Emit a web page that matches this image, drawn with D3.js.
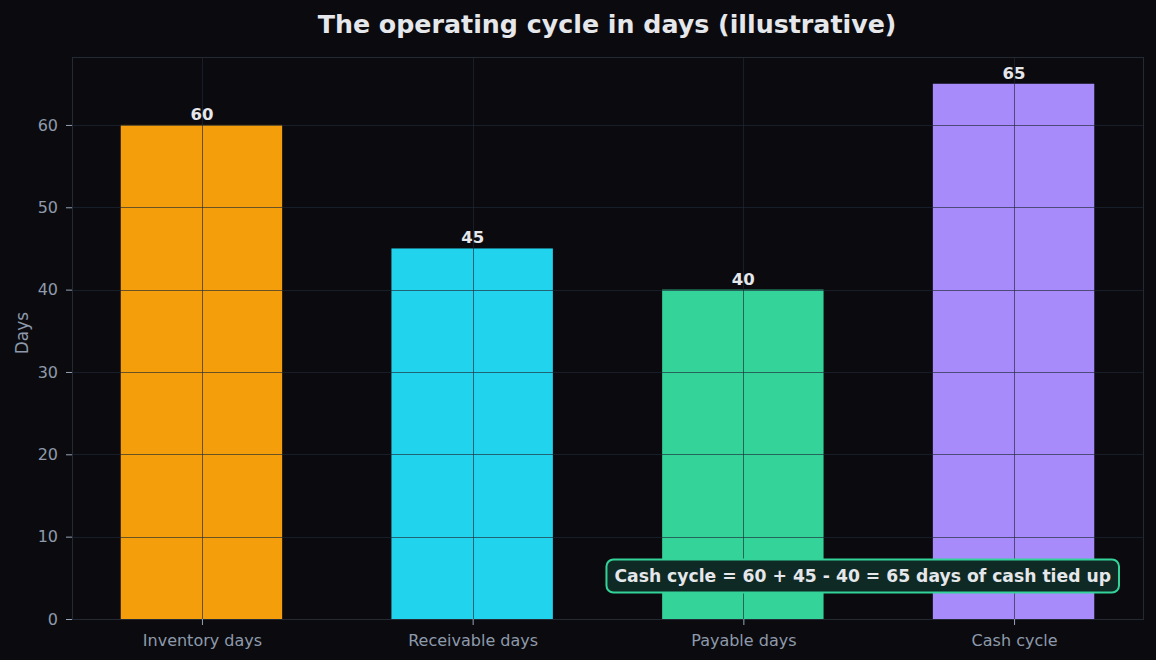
<!DOCTYPE html>
<html>
<head>
<meta charset="utf-8">
<script src="https://cdn.jsdelivr.net/npm/d3@7"></script>
<style>
  html, body { margin: 0; padding: 0; background: #0b0b0f; }
  svg { display: block; font-family: "DejaVu Sans", sans-serif; }
</style>
</head>
<body>
<svg id="chart"></svg>
<script>
// Data
const categories = ["Inventory days", "Receivable days", "Payable days", "Cash cycle"];
const days = [60, 45, 40, 65];
const barColors = ["#f59e0b", "#22d3ee", "#34d399", "#a78bfa"];
const yTicks = [0, 10, 20, 30, 40, 50, 60];
const note = "Cash cycle = 60 + 45 - 40 = 65 days of cash tied up";

const W = 1156, H = 660;
const margin = { top: 57, right: 12, bottom: 41, left: 72 };
const width = W - margin.left - margin.right;
const height = H - margin.top - margin.bottom;

const svg = d3.select("#chart").attr("width", W).attr("height", H);
svg.append("rect").attr("width", W).attr("height", H).attr("fill", "#0b0b0f");

svg.append("text")
    .attr("x", 607)
    .attr("y", 33)
    .attr("text-anchor", "middle")
    .style("font-size", "25.3px")
    .style("font-weight", "bold")
    .attr("fill", "#e5e7eb")
    .text("The operating cycle in days (illustrative)");

const g = svg.append("g").attr("transform", `translate(${margin.left},${margin.top})`);

// bars span -0.3..3.3 in category units, plus 5% margins like matplotlib
const xLin = d3.scaleLinear().domain([-0.48, 3.48]).range([0, width]);
const x = i => xLin(i);
const y = d3.scaleLinear().domain([0, 68.25]).range([height, 0]);

// bars
g.selectAll(".bar")
    .data(days)
    .enter()
    .append("rect")
    .attr("class", "bar")
    .attr("x", (d, i) => xLin(i - 0.3))
    .attr("y", d => y(d))
    .attr("width", xLin(0.3) - xLin(-0.3) - 1)
    .attr("height", d => height - y(d))
    .attr("fill", (d, i) => barColors[i]);

// grid drawn over bars
const gridColor = "#1f2937";
g.selectAll(".hgrid")
    .data(yTicks)
    .enter()
    .append("line")
    .attr("x1", 0).attr("x2", width)
    .attr("y1", d => Math.round(y(d)) + 0.5).attr("y2", d => Math.round(y(d)) + 0.5)
    .attr("stroke", gridColor).attr("stroke-opacity", 0.65);
g.selectAll(".vgrid")
    .data(categories)
    .enter()
    .append("line")
    .attr("y1", 0).attr("y2", height)
    .attr("x1", (d, i) => Math.round(x(i)) + 0.5).attr("x2", (d, i) => Math.round(x(i)) + 0.5)
    .attr("stroke", gridColor).attr("stroke-opacity", 0.65);

// value labels
g.selectAll(".val")
    .data(days)
    .enter()
    .append("text")
    .attr("x", (d, i) => x(i))
    .attr("y", d => y(d) - 5)
    .attr("text-anchor", "middle")
    .style("font-size", "16.5px")
    .style("font-weight", "bold")
    .attr("fill", "#e5e7eb")
    .text(d => d);

// frame
g.append("rect")
    .attr("x", 0.5).attr("y", 0.5)
    .attr("width", width - 1).attr("height", height)
    .attr("fill", "none")
    .attr("stroke", "#232a33");

// axes
const yAxis = g.append("g")
    .call(d3.axisLeft(y).tickValues(yTicks).tickSize(6).tickPadding(8));
const xAxis = g.append("g")
    .attr("transform", `translate(0,${height})`)
    .call(d3.axisBottom(xLin).tickValues(d3.range(categories.length))
        .tickFormat(i => categories[i]).tickSize(6).tickPadding(10));
[yAxis, xAxis].forEach(a => {
    a.select(".domain").remove();
    a.selectAll("line").attr("stroke", "#94a3b8");
    a.selectAll("text")
        .attr("fill", "#8e9aab")
        .style("font-family", "DejaVu Sans, sans-serif")
        .style("font-size", "16px");
});

svg.append("text")
    .attr("text-anchor", "middle")
    .attr("transform", `translate(28,${margin.top + height / 2 - 5})rotate(-90)`)
    .attr("fill", "#8e9aab")
    .style("font-size", "17px")
    .text("Days");

// annotation box
const noteG = g.append("g");
const noteText = noteG.append("text")
    .attr("x", 0).attr("y", 0)
    .attr("text-anchor", "end")
    .attr("dominant-baseline", "central")
    .style("font-size", "17.2px")
    .style("font-weight", "bold")
    .attr("fill", "#e5e7eb")
    .text(note);
const tw = noteText.node().getComputedTextLength();
const noteRight = 1111 - margin.left, noteY = 576 - margin.top;
noteText.attr("x", noteRight).attr("y", noteY);
noteG.insert("rect", "text")
    .attr("x", noteRight - tw - 8)
    .attr("y", noteY - 16.5)
    .attr("width", tw + 16)
    .attr("height", 33)
    .attr("rx", 7)
    .attr("fill", "#0f2a24")
    .attr("stroke", "#34d399")
    .attr("stroke-width", 2);
</script>
</body>
</html>
